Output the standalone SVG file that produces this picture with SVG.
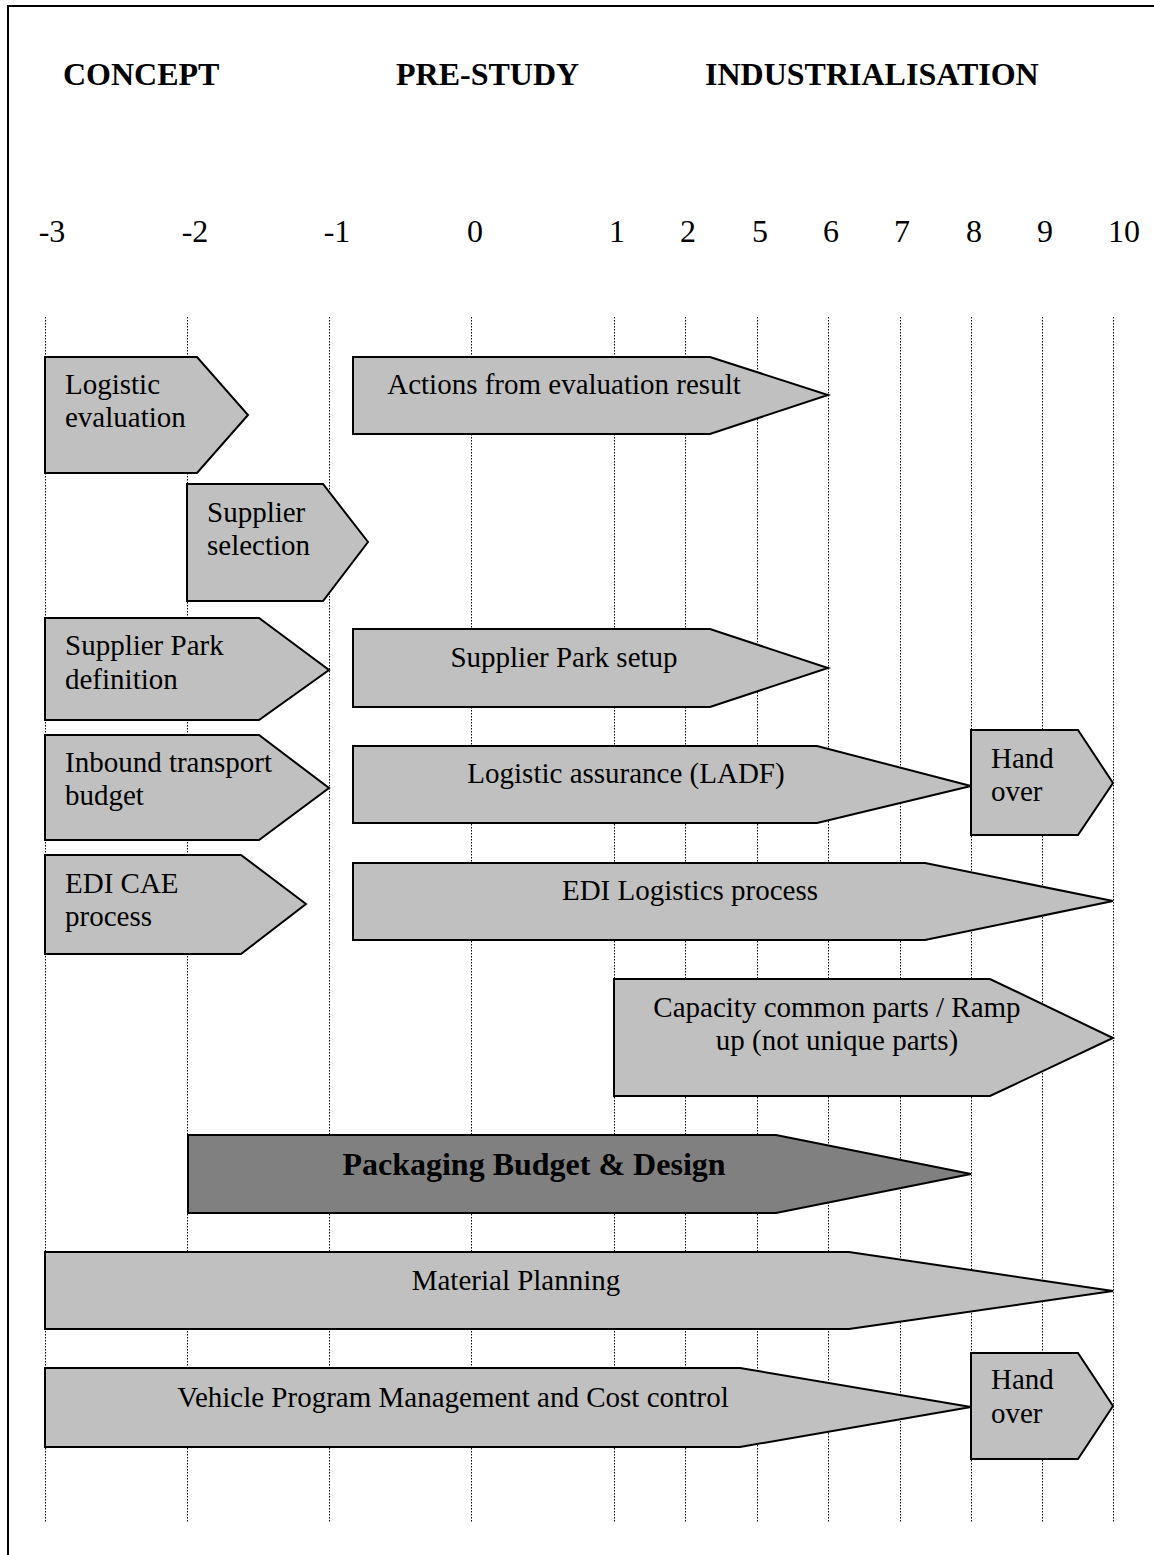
<svg xmlns="http://www.w3.org/2000/svg" width="1154" height="1555" viewBox="0 0 1154 1555">
  <style>
    text { font-family: "Liberation Serif", "Times New Roman", serif; fill: #000; }
    .hdr { font-size: 32px; font-weight: bold; }
    .num { font-size: 32px; text-anchor: middle; }
    .lbl { font-size: 29px; }
    .mid { text-anchor: middle; }
    .bar { fill: #C0C0C0; stroke: #000; stroke-width: 2; stroke-linejoin: miter; }
    .bar-dark { fill: #808080; stroke: #000; stroke-width: 2; }
    .grid line { stroke: #000; stroke-width: 1; stroke-dasharray: 1.5 1.5; }
    .frame { stroke: #000; stroke-width: 2; fill: none; }
  </style>

  <rect width="1154" height="1555" fill="#fff"/>

  <!-- page frame: top and left edges -->
  <path class="frame" d="M8,1555 V6 H1154"/>

  <!-- phase headings -->
  <g id="phases">
    <text class="hdr" x="63" y="85">CONCEPT</text>
    <text class="hdr" x="396" y="85">PRE-STUDY</text>
    <text class="hdr" x="705" y="85">INDUSTRIALISATION</text>
  </g>

  <!-- time scale -->
  <g id="scale">
    <text class="num" x="52" y="242">-3</text>
    <text class="num" x="195" y="242">-2</text>
    <text class="num" x="337" y="242">-1</text>
    <text class="num" x="475" y="242">0</text>
    <text class="num" x="617" y="242">1</text>
    <text class="num" x="688" y="242">2</text>
    <text class="num" x="760" y="242">5</text>
    <text class="num" x="831" y="242">6</text>
    <text class="num" x="902" y="242">7</text>
    <text class="num" x="974" y="242">8</text>
    <text class="num" x="1045" y="242">9</text>
    <text class="num" x="1124" y="242">10</text>
  </g>

  <!-- dotted milestone lines -->
  <g class="grid" id="grid">
    <line x1="45.5" y1="317" x2="45.5" y2="1522"/>
    <line x1="187.5" y1="317" x2="187.5" y2="1522"/>
    <line x1="329.5" y1="317" x2="329.5" y2="1522"/>
    <line x1="471.5" y1="317" x2="471.5" y2="1522"/>
    <line x1="614.5" y1="317" x2="614.5" y2="1522"/>
    <line x1="685.5" y1="317" x2="685.5" y2="1522"/>
    <line x1="757.5" y1="317" x2="757.5" y2="1522"/>
    <line x1="828.5" y1="317" x2="828.5" y2="1522"/>
    <line x1="900.5" y1="317" x2="900.5" y2="1522"/>
    <line x1="971.5" y1="317" x2="971.5" y2="1522"/>
    <line x1="1042.5" y1="317" x2="1042.5" y2="1522"/>
    <line x1="1113.5" y1="317" x2="1113.5" y2="1522"/>
  </g>

  <g id="connectors"></g>

  <g id="logistic-evaluation">
    <polygon class="bar" points="45,357 197,357 248,415 197,473 45,473"/>
    <text class="lbl" x="65" y="394">Logistic</text>
    <text class="lbl" x="65" y="427">evaluation</text>
  </g>

  <g id="actions-from-evaluation">
    <polygon class="bar" points="353,357 710,357 828,395 710,434 353,434"/>
    <text class="lbl mid" x="564" y="394">Actions from evaluation result</text>
  </g>

  <g id="supplier-selection">
    <polygon class="bar" points="187,484 323,484 368,542 323,601 187,601"/>
    <text class="lbl" x="207" y="522">Supplier</text>
    <text class="lbl" x="207" y="555">selection</text>
  </g>

  <g id="supplier-park-definition">
    <polygon class="bar" points="45,618 259,618 329,670 259,720 45,720"/>
    <text class="lbl" x="65" y="655">Supplier Park</text>
    <text class="lbl" x="65" y="689">definition</text>
  </g>

  <g id="supplier-park-setup">
    <polygon class="bar" points="353,629 710,629 828,668 710,707 353,707"/>
    <text class="lbl mid" x="564" y="667">Supplier Park setup</text>
  </g>

  <g id="inbound-transport-budget">
    <polygon class="bar" points="45,735 259,735 329,788 259,840 45,840"/>
    <text class="lbl" x="65" y="772">Inbound transport</text>
    <text class="lbl" x="65" y="805">budget</text>
  </g>

  <g id="logistic-assurance">
    <polygon class="bar" points="353,746 817,746 971,786 817,823 353,823"/>
    <text class="lbl mid" x="626" y="783">Logistic assurance (LADF)</text>
  </g>

  <g id="hand-over-1">
    <polygon class="bar" points="971,730 1078,730 1113,783 1078,835 971,835"/>
    <text class="lbl" x="991" y="768">Hand</text>
    <text class="lbl" x="991" y="801">over</text>
  </g>

  <g id="edi-cae-process">
    <polygon class="bar" points="45,855 241,855 306,904 241,954 45,954"/>
    <text class="lbl" x="65" y="893">EDI CAE</text>
    <text class="lbl" x="65" y="926">process</text>
  </g>

  <g id="edi-logistics-process">
    <polygon class="bar" points="353,863 925,863 1113,901 925,940 353,940"/>
    <text class="lbl mid" x="690" y="900">EDI Logistics process</text>
  </g>

  <g id="capacity-ramp-up">
    <polygon class="bar" points="614,979 990,979 1113,1038 990,1096 614,1096"/>
    <text class="lbl mid" x="837" y="1017">Capacity common parts / Ramp</text>
    <text class="lbl mid" x="837" y="1050">up (not unique parts)</text>
  </g>

  <g id="packaging-budget-design">
    <polygon class="bar-dark" points="188,1135 776,1135 971,1174 776,1213 188,1213"/>
    <text class="hdr mid" x="534" y="1175">Packaging Budget &amp; Design</text>
  </g>

  <g id="material-planning">
    <polygon class="bar" points="45,1252 849,1252 1113,1291 849,1329 45,1329"/>
    <text class="lbl mid" x="516" y="1290">Material Planning</text>
  </g>

  <g id="vehicle-program-management">
    <polygon class="bar" points="45,1368 740,1368 971,1407 740,1447 45,1447"/>
    <text class="lbl mid" x="453" y="1407">Vehicle Program Management and Cost control</text>
  </g>

  <g id="hand-over-2">
    <polygon class="bar" points="971,1353 1078,1353 1113,1406 1078,1459 971,1459"/>
    <text class="lbl" x="991" y="1389">Hand</text>
    <text class="lbl" x="991" y="1423">over</text>
  </g>
</svg>
